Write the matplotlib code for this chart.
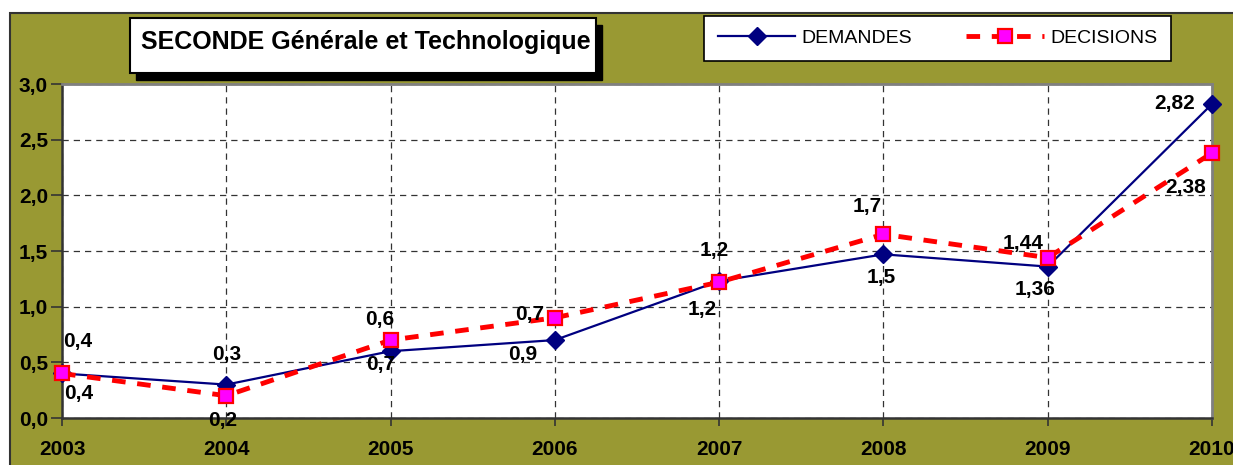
import matplotlib.pyplot as plt
from matplotlib.patches import Rectangle
from matplotlib.lines import Line2D

# --- data ---
years = [2003, 2004, 2005, 2006, 2007, 2008, 2009, 2010]
demandes = [0.4, 0.3, 0.6, 0.7, 1.23, 1.47, 1.36, 2.82]
decisions = [0.4, 0.2, 0.7, 0.9, 1.22, 1.65, 1.44, 2.38]
dem_labels = ["0,4", "0,3", "0,7", "0,9", "1,2", "1,5", "1,36", "2,82"]
dec_labels = ["0,4", "0,2", "0,6", "0,7", "1,2", "1,7", "1,44", "2,38"]
yticks = [0.0, 0.5, 1.0, 1.5, 2.0, 2.5, 3.0]
title = "SECONDE Générale et Technologique"

# label offsets (pixels) from each marker
dem_off = [(17, -20), (0, 30), (-10, -13), (-32, -14), (-5, 31), (-2, -23), (-13, -23), (-37, 1)]
dec_off = [(16, 32), (-4, -25), (-11, 21), (-25, 3), (-17, -27), (-16, 28), (-25, 14), (-26, -34)]

plt.rcParams['font.family'] = ['Liberation Sans', 'DejaVu Sans']

W, H = 1233, 465
fig = plt.figure(figsize=(W / 100, H / 100), dpi=100, facecolor='white')

OLIVE = '#999933'
# chart area background
fig.patches.append(Rectangle((10 / W, -0.01), 1.0, 1 - 13 / H + 0.01, transform=fig.transFigure,
                             facecolor=OLIVE, edgecolor='#333333', lw=1.5, zorder=-5))

ax = fig.add_axes([62 / W, 47 / H, (1212 - 62) / W, (418 - 84) / H])
ax.set_zorder(1)
ax.set_facecolor('white')

ax.plot(years, demandes, color='#000080', lw=1.6, marker='D', ms=9,
        mfc='#000080', mec='#000080', zorder=4, clip_on=False, label='DEMANDES')
ax.plot(years, decisions, color='#ff0000', lw=3.5, dashes=(2.8, 2.4), marker='s', ms=10,
        mfc='#ff00ff', mec='#ff0000', mew=1.6, zorder=5, clip_on=False, label='DECISIONS')

for x, y, t, o in zip(years, demandes, dem_labels, dem_off):
    ax.annotate(t, (x, y), xytext=o, textcoords='offset pixels', ha='center', va='center',
                fontsize=15, fontweight='bold', zorder=6, annotation_clip=False)
for x, y, t, o in zip(years, decisions, dec_labels, dec_off):
    ax.annotate(t, (x, y), xytext=o, textcoords='offset pixels', ha='center', va='center',
                fontsize=15, fontweight='bold', zorder=6, annotation_clip=False)

ax.set_xlim(2003, 2010)
ax.set_ylim(0, 3)
ax.set_xticks(years)
ax.set_xticklabels([str(y) for y in years], fontsize=15, fontweight='bold')
ax.set_yticks(yticks)
ax.set_yticklabels([f"{v:.1f}".replace('.', ',') for v in yticks], fontsize=15, fontweight='bold')
ax.tick_params(axis='y', direction='out', length=8, width=1.2, pad=2, color='#333333')
ax.tick_params(axis='x', direction='out', length=6, width=1.2, pad=10, color='#333333')

ax.grid(True, color='#333333', lw=0.9, dashes=(5, 4))
ax.set_axisbelow(True)

for s in ['top', 'right']:
    ax.spines[s].set_color('#808080')
    ax.spines[s].set_linewidth(2)
for s in ['left', 'bottom']:
    ax.spines[s].set_color('#333333')
    ax.spines[s].set_linewidth(1.8)

# title box with shadow
fig.patches.append(Rectangle((136 / W, 1 - 80 / H), 466 / W, 55 / H, transform=fig.transFigure,
                             facecolor='black', edgecolor='black', zorder=2))
fig.patches.append(Rectangle((130 / W, 1 - 73 / H), 466 / W, 55 / H, transform=fig.transFigure,
                             facecolor='white', edgecolor='black', lw=1.5, zorder=3))
fig.text(366 / W, 1 - 42 / H, title, ha='center', va='center', fontsize=18,
         fontweight='bold', zorder=4)

# legend
handles = [
    Line2D([], [], color='#000080', lw=1.6, marker='D', ms=9, mfc='#000080', mec='#000080'),
    Line2D([], [], color='#ff0000', lw=3.5, dashes=(2.8, 2.4), marker='s', ms=10,
           mfc='#ff00ff', mec='#ff0000', mew=1.6),
]
leg = fig.legend(handles, ['DEMANDES', 'DECISIONS'], loc='upper left',
                 bbox_to_anchor=(704 / W, 1 - 16 / H), borderaxespad=0, ncol=2,
                 fontsize=14, handlelength=4.0, handletextpad=0.3, columnspacing=2.8,
                 borderpad=0.7, frameon=True, fancybox=False, edgecolor='black',
                 facecolor='white', framealpha=1)
leg.get_frame().set_linewidth(1.2)

fig.savefig('out.png', dpi=100, facecolor='white')
